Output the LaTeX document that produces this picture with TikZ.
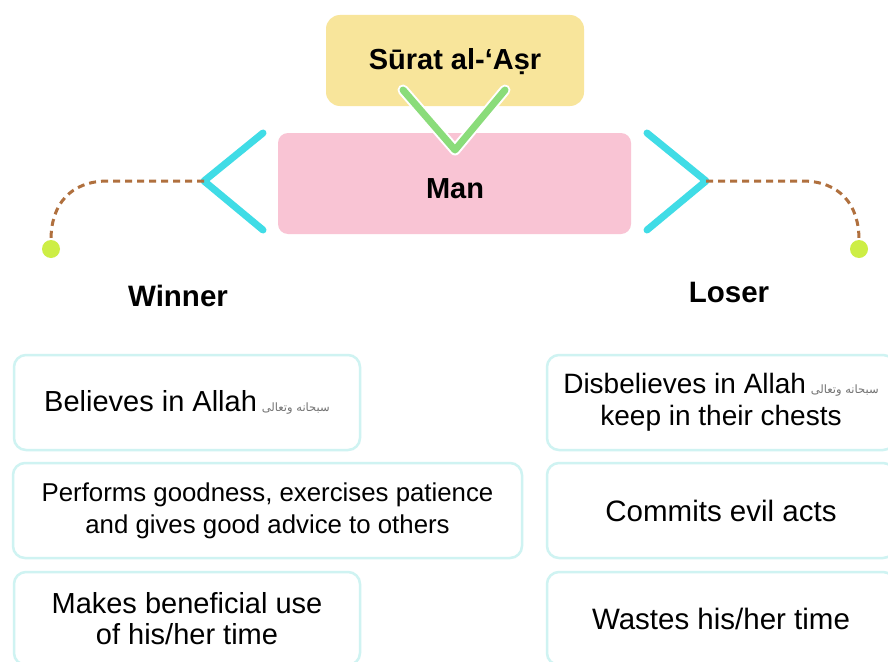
\documentclass[tikz,border=0pt]{standalone}
\usepackage{fontspec}
\setmainfont{Liberation Sans}
\newfontfamily\arabicfont[Script=Arabic]{DejaVu Sans}
\TeXXeTstate=1
\definecolor{yel}{HTML}{F8E59B}
\definecolor{pnk}{HTML}{F9C4D4}
\definecolor{chevc}{HTML}{40DCE6}
\definecolor{chk}{HTML}{8ADC7A}
\definecolor{brn}{HTML}{B0703E}
\definecolor{lime}{HTML}{CDEE45}
\definecolor{boxc}{HTML}{CFF3F2}
\newcommand{\swt}{\,{\arabicfont\fontsize{11.5}{11.5}\selectfont\color{black!55}\beginR سبحانه وتعالى\endR}}
\newcommand{\fs}[1]{\fontsize{#1}{32}\selectfont}
\begin{document}
\begin{tikzpicture}[x=1pt,y=-1pt,
  topbox/.style={rounded corners=14pt, inner sep=0pt},
  toptext/.style={font=\fontsize{29}{32}\selectfont\bfseries, inner sep=0pt},
  itembox/.style={draw=boxc, line width=2.5pt, fill=white, rounded corners=12pt, inner sep=0pt, align=center},
  lbl/.style={font=\fontsize{29.5}{32}\selectfont\bfseries},
  chev/.style={draw=chevc, line width=7pt, line cap=round, line join=round},
  dashline/.style={draw=brn, line width=3pt, dash pattern=on 7pt off 5pt},
  dotn/.style={circle, fill=lime, minimum size=18pt, inner sep=0pt}]
\useasboundingbox (0,0) rectangle (888,661);
\fill[white] (0,0) rectangle (888,661);
% top boxes
\node[topbox, fill=yel, minimum width=258pt, minimum height=91pt] (title) at (455,60.5) {};
\node[toptext] (titletext) at (455,62) {Sūrat al-‘Aṣr};
\node[topbox, fill=pnk, rounded corners=10pt, minimum width=353pt, minimum height=101pt] (man) at (454.5,183.5) {};
\node[toptext] (mantext) at (455,189) {Man};
% check mark
\coordinate (cv) at (455,150);
\draw[white, line width=11pt, line cap=round, line join=round] (403,90) -- (cv) -- (505,90);
\draw[chk, line width=7pt, line cap=round, line join=round] (403,90) -- (cv) -- (505,90);
% chevrons
\coordinate (lv) at (204,181);
\coordinate (rv) at (706,181);
\draw[chev] (263,133) -- (lv) -- (263,230);
\draw[chev] (647,133) -- (rv) -- (647,230);
% dots and dashed connectors
\node[dotn] (ld) at (51,249) {};
\node[dotn] (rd) at (859,249) {};
\draw[dashline] (lv) -- ++(-96,0) .. controls +(-38,0) and +(0,-35) .. (ld.north);
\draw[dashline] (rv) -- ++(96,0) .. controls +(38,0) and +(0,-35) .. (rd.north);
% labels
\node[lbl] (win) at (178,296) {Winner};
\node[lbl] (los) at (729,292) {Loser};
% left column
\node[itembox, minimum width=346pt, minimum height=95pt, font=\fs{29}] (l1) at (187,402.5) {Believes in Allah\swt};
\node[itembox, minimum width=509pt, minimum height=95pt, font=\fs{25.8}] (l2) at (267.5,510.5) {Performs goodness, exercises patience\\and gives good advice to others};
\node[itembox, minimum width=346pt, minimum height=93pt, font=\fontsize{29}{31}\selectfont] (l3) at (187,618.5) {Makes beneficial use\\of his/her time};
% right column
\node[itembox, minimum width=348pt, minimum height=95pt, font=\fs{28}] (r1) at (721,402.5) {Disbelieves in Allah\swt\\keep in their chests};
\node[itembox, minimum width=348pt, minimum height=95pt, font=\fs{29.5}] (r2) at (721,510.5) {Commits evil acts};
\node[itembox, minimum width=348pt, minimum height=93pt, font=\fs{29.5}] (r3) at (721,618.5) {Wastes his/her time};
\end{tikzpicture}
\end{document}
